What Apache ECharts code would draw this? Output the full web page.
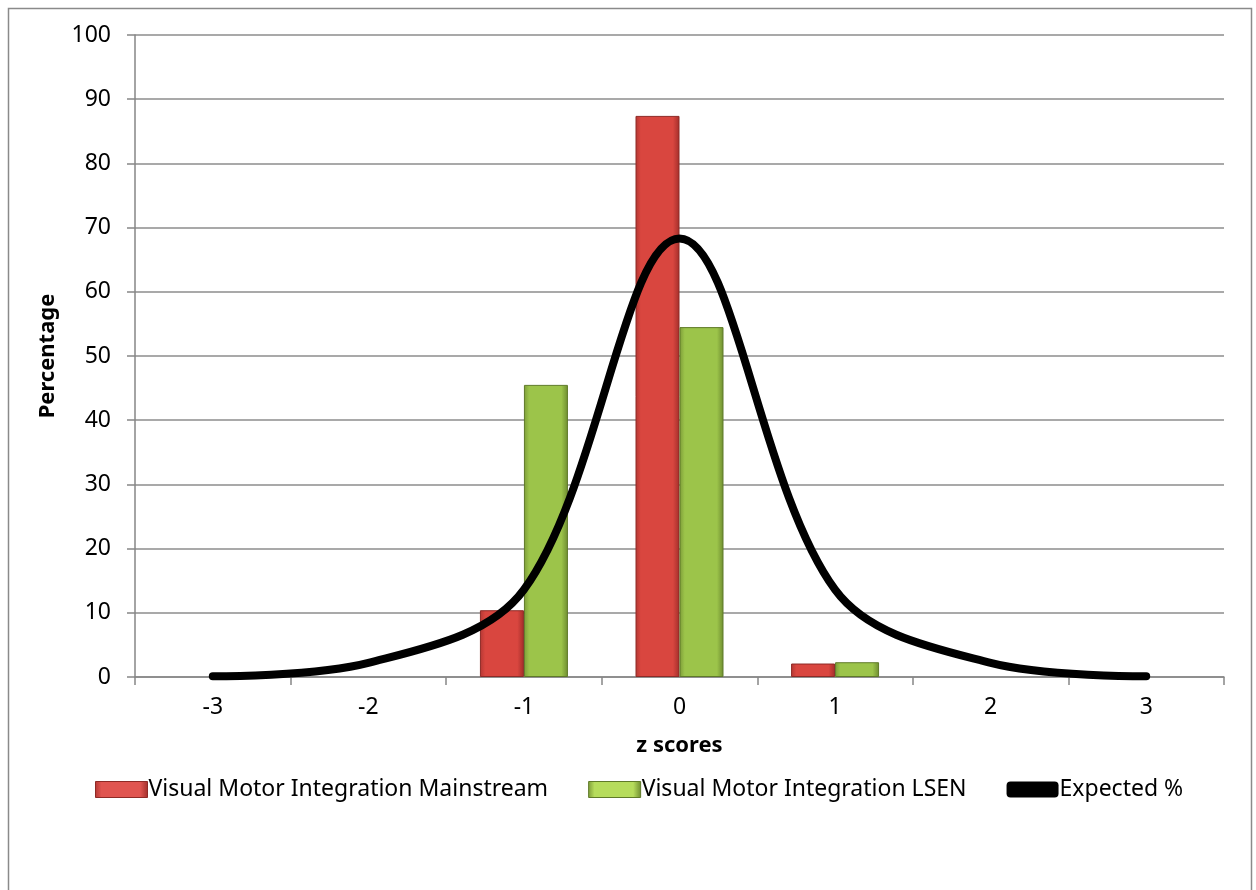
<!DOCTYPE html>
<html><head><meta charset="utf-8">
<script src="https://cdn.jsdelivr.net/npm/echarts@6/dist/echarts.min.js"></script>
<style>html,body{margin:0;padding:0;background:#fff}#c{width:1256px;height:890px}</style>
</head><body><div id="c"></div>
<script>
const categories = ['-3','-2','-1','0','1','2','3'];
const mainstream = [null, null, 10.4, 87.4, 2.1, null, null];
const lsen = [null, null, 45.5, 54.5, 2.3, null, null];
const expected = [0.1, 2.2, 13.6, 68.3, 13.6, 2.2, 0.1];
const yTicks = {min: 0, max: 100, interval: 10};
const seriesNames = ['Visual Motor Integration Mainstream', 'Visual Motor Integration LSEN', 'Expected %'];

const FONT = 'Noto Sans';
function grad(c1, c2, c3) {
  return new echarts.graphic.LinearGradient(0, 0, 1, 0, [
    {offset: 0, color: c1}, {offset: 0.12, color: c2}, {offset: 0.85, color: c2}, {offset: 1, color: c3}
  ]);
}
const chart = echarts.init(document.getElementById('c'), null, {renderer: 'canvas'});
chart.setOption({
  animation: false,
  backgroundColor: '#fff',
  textStyle: {fontFamily: FONT},
  graphic: [{type: 'rect', shape: {x: 8.5, y: 8.5, width: 1243, height: 900}, style: {fill: 'none', stroke: '#8a8a8a', lineWidth: 1.5}, silent: true}],
  grid: {left: 135, right: 32, top: 35, bottom: 213},
  legend: {
    top: 773, left: 90, itemGap: 40, itemWidth: 52, itemHeight: 16,
    textStyle: {fontFamily: FONT, fontSize: 23, color: '#000', padding: [0, 0, 0, -4]},
    data: [
      {name: seriesNames[0], icon: 'rect', itemStyle: {color: grad('#b33733', '#e05550', '#a22e2a'), borderColor: '#8e2a26', borderWidth: 1}},
      {name: seriesNames[1], icon: 'rect', itemStyle: {color: grad('#7d9c38', '#b6dc5c', '#6e8c30'), borderColor: '#5f7a28', borderWidth: 1}},
      {name: seriesNames[2], icon: 'roundRect', itemStyle: {color: '#000'}}
    ]
  },
  xAxis: {
    type: 'category', data: categories, boundaryGap: true,
    name: 'z scores', nameLocation: 'middle', nameGap: 58,
    nameTextStyle: {fontFamily: FONT, fontSize: 22, fontWeight: 'bold', color: '#000'},
    axisLine: {lineStyle: {color: '#868686', width: 1.5}},
    axisTick: {show: true, length: 8, lineStyle: {color: '#868686', width: 1.5}},
    axisLabel: {fontFamily: FONT, fontSize: 23, color: '#000', margin: 19},
    splitLine: {show: false}
  },
  yAxis: {
    type: 'value', min: yTicks.min, max: yTicks.max, interval: yTicks.interval,
    name: 'Percentage', nameLocation: 'middle', nameGap: 76, nameRotate: 90,
    nameTextStyle: {fontFamily: FONT, fontSize: 22, fontWeight: 'bold', color: '#000'},
    axisLine: {show: true, lineStyle: {color: '#868686', width: 1.5}},
    axisTick: {show: true, length: 8, lineStyle: {color: '#868686', width: 1.5}},
    axisLabel: {fontFamily: FONT, fontSize: 23, color: '#000', margin: 24},
    splitLine: {lineStyle: {color: '#8c8c8c', width: 1.5}}
  },
  series: [
    {name: seriesNames[0], type: 'bar', data: mainstream, barWidth: 44, barGap: '0%',
     itemStyle: {color: grad('#b33733', '#d9463f', '#a22e2a'), borderColor: '#8e2a26', borderWidth: 1}, z: 2},
    {name: seriesNames[1], type: 'bar', data: lsen, barWidth: 44, barGap: '0%',
     itemStyle: {color: grad('#7d9c38', '#9cc44a', '#6e8c30'), borderColor: '#5f7a28', borderWidth: 1}, z: 2},
    {name: seriesNames[2], type: 'line', data: expected, smooth: 0.35, symbol: 'none',
     lineStyle: {color: '#000', width: 8, cap: 'round', join: 'round'}, itemStyle: {color: '#000'}, z: 5}
  ]
});
</script></body></html>
